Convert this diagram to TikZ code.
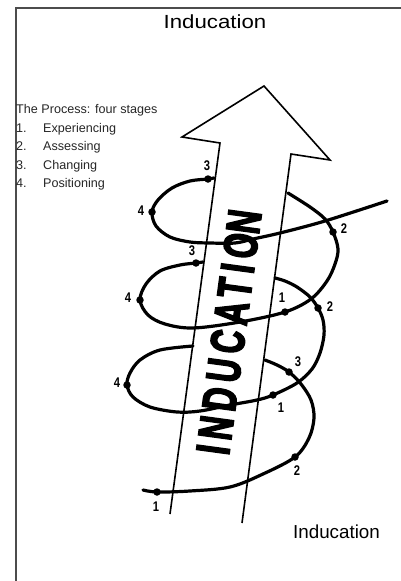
\documentclass[tikz,border=0pt]{standalone}
\usepackage{fontspec}
\setmainfont{Liberation Sans}
\newfontfamily\wordfont[FakeBold=4]{Liberation Sans Bold}
\usepackage{graphicx}
\begin{document}
\begin{tikzpicture}[x=1pt,y=-1pt,
  coil/.style={line width=3.2pt, line cap=round, line join=round},
  dotn/.style={circle, fill=black, inner sep=0pt, minimum size=7.5pt},
  num/.style={font=\fontsize{14}{14}\selectfont\bfseries, inner sep=0pt},
  listtext/.style={font=\fontsize{12.6}{14}\selectfont, anchor=base west, inner sep=0pt, text=black!85}]
\useasboundingbox (0,0) rectangle (401,581);
% frame
\draw[line width=1.3pt, black!70] (16,581) -- (16,8) -- (401,8);
% titles
\node[anchor=base, inner sep=0pt, font=\fontsize{19}{19}\selectfont] (title) at (215,28) {\scalebox{1.17}[1]{Inducation}};
\node[anchor=base, inner sep=0pt, font=\fontsize{18.8}{19}\selectfont] (foot) at (336.5,538) {Inducation};
% list
\node[listtext] (proc) at (16,113) {The Process: four stages};
\node[listtext] (n1) at (16,132) {1.};
\node[listtext] (t1) at (43,132) {Experiencing};
\node[listtext] (n2) at (16,150.5) {2.};
\node[listtext] (t2) at (43,150.5) {Assessing};
\node[listtext] (n3) at (16,169) {3.};
\node[listtext] (t3) at (43,169) {Changing};
\node[listtext] (n4) at (16,187.5) {4.};
\node[listtext] (t4) at (43,187.5) {Positioning};
% arrow
\draw[line width=1.6pt, line join=miter, fill=white] (170,514) -- (220,143) -- (182,137) -- (264,86) -- (330,160) -- (291,154) -- (242,523);
\node[rotate=82.3, inner sep=0pt] (word) at (229,332) {\resizebox{246pt}{33pt}{\wordfont\addfontfeature{LetterSpace=18}INDUCATIO\addfontfeature{LetterSpace=0}N}};
% dots
\node[dotn] (a1) at (157,492) {};
\node[dotn] (a2) at (295,457) {};
\node[dotn] (a3) at (289,372) {};
\node[dotn] (b4) at (127,385) {};
\node[dotn] (b1) at (273,395) {};
\node[dotn] (b2) at (318,308) {};
\node[dotn] (c3) at (196,263) {};
\node[dotn] (c4) at (140,300) {};
\node[dotn] (c1) at (285,312) {};
\node[dotn] (c2) at (333,232) {};
\node[dotn] (d3) at (208,179) {};
\node[dotn] (d4) at (152,212) {};
% coil pieces
\draw[coil] plot[smooth, tension=0.55] coordinates {(143,490) (a1) (190,491) (230,487) (263,474) (a2) (309,438) (314,418) (311,400) (301,384) (a3) (277,365) (265,360)};
\draw[coil] plot[smooth, tension=0.55] coordinates {(193,346) (160,350) (140,360) (130,373) (b4) (133,397) (150,407) (177,412) (200,411) (230,405) (257,400) (b1) (297,383) (312,369) (320,353) (324,335) (323,320) (b2) (310,297) (297,287) (285,281) (275,278)};
\draw[coil] plot[smooth, tension=0.55] coordinates {(203,262) (c3) (180,265) (160,271) (146,284) (c4) (148,315) (165,324) (193,328) (240,322) (c1) (311,299) (327,281) (335,264) (338,249) (c2) (325,219) (310,207) (288,193)};
\draw[coil] plot[smooth, tension=0.55] coordinates {(214,178) (d3) (190,181) (172,188) (158,200) (d4) (156,226) (170,237) (190,242) (210,243) (235,243) (253,239) (280,233) (325,221) (387,201)};
% labels
\node[num] (la1) at (156,507) {\scalebox{0.8}[1]{1}};
\node[num] (la2) at (297,471) {\scalebox{0.8}[1]{2}};
\node[num] (la3) at (298,362) {\scalebox{0.8}[1]{3}};
\node[num] (lb4) at (117,383) {\scalebox{0.8}[1]{4}};
\node[num] (lb1) at (281,408) {\scalebox{0.8}[1]{1}};
\node[num] (lb2) at (330,307) {\scalebox{0.8}[1]{2}};
\node[num] (lc3) at (192,251) {\scalebox{0.8}[1]{3}};
\node[num] (lc4) at (128,298) {\scalebox{0.8}[1]{4}};
\node[num] (lc1) at (282,298) {\scalebox{0.8}[1]{1}};
\node[num] (lc2) at (344,229) {\scalebox{0.8}[1]{2}};
\node[num] (ld3) at (207,166) {\scalebox{0.8}[1]{3}};
\node[num] (ld4) at (141,211) {\scalebox{0.8}[1]{4}};
\end{tikzpicture}
\end{document}
